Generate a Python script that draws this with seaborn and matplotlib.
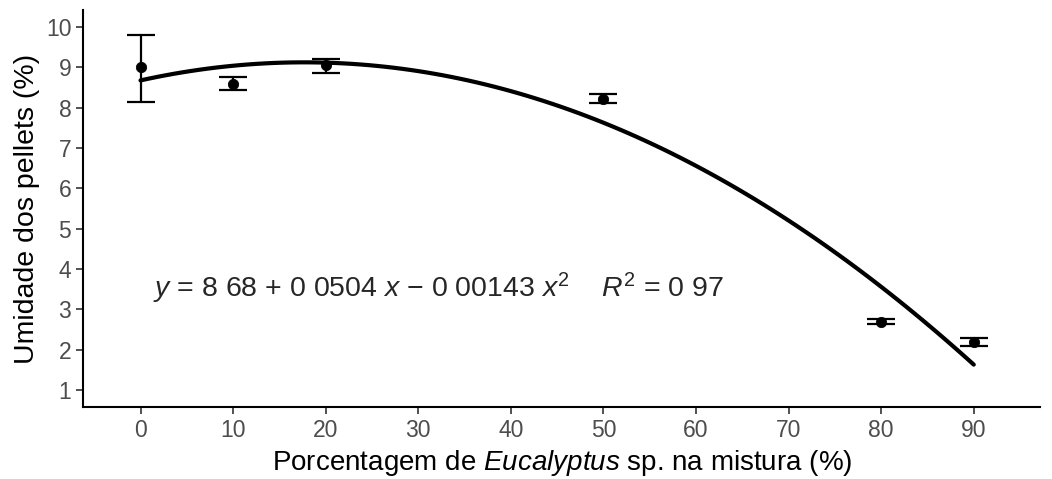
import matplotlib
matplotlib.use("Agg")
import matplotlib.pyplot as plt
import seaborn as sns
import pandas as pd

# -----------------------------
# Data
# -----------------------------
eucalyptus = [0, 10, 20, 50, 80, 90]
umidade = [9.00, 8.60, 9.05, 8.22, 2.70, 2.20]
erro_inf = [8.15, 8.45, 8.85, 8.12, 2.64, 2.10]
erro_sup = [9.80, 8.75, 9.20, 8.35, 2.76, 2.30]

# points
curva_x = [0, 10, 20, 30, 40, 50, 60, 70, 80, 90]
curva_y = [8.68, 9.04, 9.11, 8.90, 8.43, 7.62, 6.56, 5.20, 3.57, 1.63]

x_ticks = [0, 10, 20, 30, 40, 50, 60, 70, 80, 90]
y_ticks = [1, 2, 3, 4, 5, 6, 7, 8, 9, 10]

equacao = r"$y$ = 8 68 + 0 0504 $x$ $-$ 0 00143 $x^2$    $R^2$ = 0 97"

df = pd.DataFrame({"x": eucalyptus, "y": umidade})
df_curva = pd.DataFrame({"x": curva_x, "y": curva_y})

# -----------------------------
# Style
# -----------------------------
sns.set_theme(style="ticks")
plt.rcParams["font.family"] = ["Liberation Sans", "DejaVu Sans"]
plt.rcParams["mathtext.fontset"] = "custom"
plt.rcParams["mathtext.rm"] = "Liberation Sans"
plt.rcParams["mathtext.it"] = "Liberation Sans:italic"

fig, ax = plt.subplots(figsize=(10.52, 4.79), dpi=100)
fig.subplots_adjust(left=0.079, right=0.989, bottom=0.150, top=0.979)

# fitted quadratic curve
sns.regplot(data=df_curva, x="x", y="y", order=2, ci=None, scatter=False,
            line_kws={"color": "black", "lw": 3.0}, ax=ax)

# error bars and means
yerr = [[m - lo for m, lo in zip(umidade, erro_inf)],
        [hi - m for m, hi in zip(umidade, erro_sup)]]
ax.errorbar(eucalyptus, umidade, yerr=yerr, fmt="none", ecolor="black",
            elinewidth=1.6, capsize=10, capthick=1.6, zorder=3)
sns.scatterplot(data=df, x="x", y="y", color="black", s=55, edgecolor="black",
                zorder=4, ax=ax)

ax.text(1.3, 3.3, equacao, fontsize=20.5, ha="left", va="baseline")

ax.set_xlim(-6.2, 97.2)
ax.set_ylim(0.58, 10.42)
ax.set_xticks(x_ticks)
ax.set_yticks(y_ticks)
ax.set_xticklabels([str(t) for t in x_ticks],
                   family=["Liberation Sans Narrow", "Liberation Sans"])

ax.set_xlabel(r"Porcentagem de $\it{Eucalyptus}$ sp. na mistura (%)",
              fontsize=20, color="black")
ax.set_ylabel("Umidade dos pellets (%)", fontsize=20.5, color="black")

ax.tick_params(axis="both", labelsize=16.5, labelcolor="#4d4d4d", color="#333333",
               length=5, width=1.2, direction="out")
for side in ["left", "bottom"]:
    ax.spines[side].set_color("black")
    ax.spines[side].set_linewidth(1.5)
sns.despine(ax=ax)

plt.savefig("out.png", dpi=100)
